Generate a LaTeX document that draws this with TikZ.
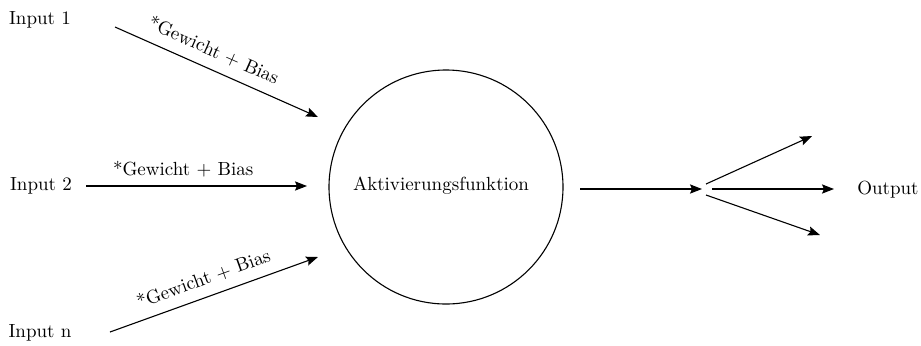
\documentclass[tikz,border=0pt]{standalone}
\usetikzlibrary{arrows.meta}
\begin{document}
\begin{tikzpicture}[x=0.5pt,y=-0.5pt,
  lbl/.style={font=\fontsize{9.5}{11}\selectfont, inner sep=0pt},
  arr/.style={-{Stealth[length=6pt,width=4.6pt,inset=1pt]}, line width=0.55pt}]
\useasboundingbox (0,0) rectangle (921,345);
% inputs
\node[lbl] (in1) at (40,20) {Input 1};
\node[lbl] (in2) at (41,186) {Input 2};
\node[lbl] (inn) at (40,333) {Input n};
% neuron
\node[draw, circle, minimum size=234*0.5pt, inner sep=0pt, line width=0.55pt] (neuron) at (446,187) {};
\node[lbl] (act) at (441,186) {Aktivierungsfunktion};
% weighted connections
\coordinate (a1s) at (115,27);  \coordinate (a1e) at (318,117);
\coordinate (a2s) at (86,186);  \coordinate (a2e) at (307,186);
\coordinate (a3s) at (110,332); \coordinate (a3e) at (318,257);
\draw[arr] (a1s) -- node[lbl, sloped, pos=0.45, above=5pt] {*Gewicht + Bias} (a1e);
\draw[arr] (a2s) -- node[lbl, pos=0.44, above=4pt] {*Gewicht + Bias} (a2e);
\draw[arr] (a3s) -- node[lbl, sloped, pos=0.48, above=5pt] {*Gewicht + Bias} (a3e);
% output fan
\coordinate (o0) at (580,189);  \coordinate (o1) at (702,189);
\draw[arr] (o0) -- (o1);
\coordinate (b1s) at (706,184); \coordinate (b1e) at (812,136);
\coordinate (b2s) at (712,189); \coordinate (b2e) at (834,189);
\coordinate (b3s) at (706,195); \coordinate (b3e) at (820,235);
\draw[arr] (b1s) -- (b1e);
\draw[arr] (b2s) -- (b2e);
\draw[arr] (b3s) -- (b3e);
\node[lbl] (out) at (888,190) {Output};
\end{tikzpicture}
\end{document}
